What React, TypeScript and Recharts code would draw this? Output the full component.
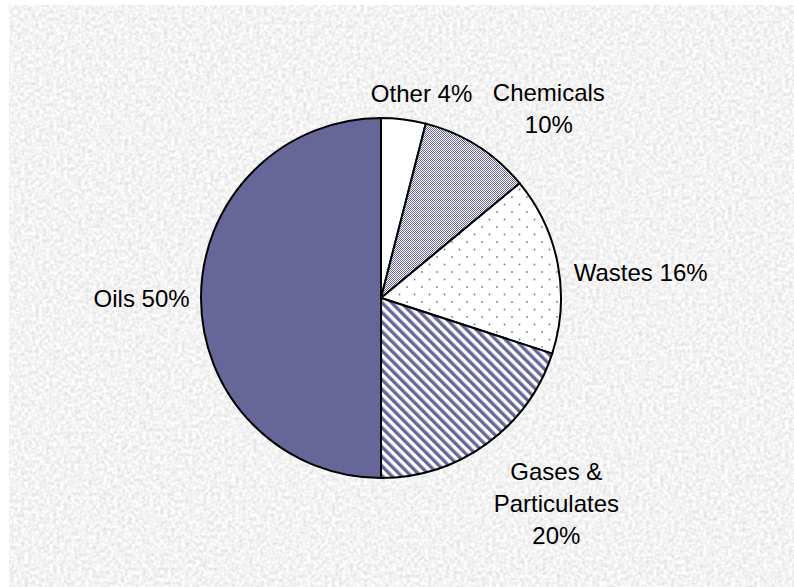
import { PieChart, Pie, Cell } from 'recharts'

// pollution sources, share of total (%)
const categories = ['Other', 'Chemicals', 'Wastes', 'Gases & Particulates', 'Oils']
const shares = [4, 10, 16, 20, 50]
const labelLines = [['Other 4%'], ['Chemicals', '10%'], ['Wastes 16%'], ['Gases &', 'Particulates', '20%'], ['Oils 50%']]

const data = categories.map((name, i) => ({ name, value: shares[i] }))

const FILLS = ['#ffffff', 'url(#checker)', 'url(#dots)', 'url(#stripes)', '#666699']

// where each label sits: angle shift (deg) and distance from centre, as a share of the radius
const LABEL_PLACE = [
  { da: -4, k: 1.16 },
  { da: -9, k: 1.41 },
  { da: -5, k: 1.45 },
  { da: 4.5, k: 1.5 },
  { da: 0, k: 1.33 },
]

const RAD = Math.PI / 180
const FONT = "'Liberation Sans', Arial, sans-serif"

function renderLabel(props: any) {
  const { cx, cy, midAngle, outerRadius, index } = props
  const p = LABEL_PLACE[index]
  const a = (midAngle + p.da) * RAD
  const x = cx + Math.cos(a) * outerRadius * p.k
  const y = cy - Math.sin(a) * outerRadius * p.k
  const lines = labelLines[index]
  const lh = 32
  const top = y - ((lines.length - 1) * lh) / 2
  return (
    <text key={index} x={x} y={top} textAnchor="middle" dominantBaseline="central" fontSize={24} fontFamily={FONT} fill="#000">
      {lines.map((l, j) => (
        <tspan key={j} x={x} y={top + j * lh}>{l}</tspan>
      ))}
    </text>
  )
}

export default function App() {
  return (
    <div style={{ position: 'absolute', left: 0, top: 0, width: 794, height: 587, background: '#fff', overflow: 'hidden' }}>
      {/* textured grey backdrop */}
      <svg width={794} height={587} style={{ position: 'absolute', left: 0, top: 0 }}>
        <defs>
          <filter id="grain" x="0" y="0" width="100%" height="100%">
            <feTurbulence type="fractalNoise" baseFrequency="0.28" numOctaves={3} seed={4} />
            <feColorMatrix
              type="matrix"
              values="0.45 0 0 0 0.67  0.45 0 0 0 0.67  0.45 0 0 0 0.67  0 0 0 0 1"
            />
          </filter>
        </defs>
        <rect x={9} y={5} width={785} height={582} filter="url(#grain)" />
      </svg>
      <div style={{ position: 'absolute', left: 0, top: 0 }}>
        <PieChart width={794} height={587} margin={{ top: 0, right: 0, bottom: 0, left: 0 }}>
          <defs>
            <pattern id="checker" width={2} height={2} patternUnits="userSpaceOnUse">
              <rect width={2} height={2} fill="#ffffff" />
              <rect width={1} height={1} fill="#666699" />
              <rect x={1} y={1} width={1} height={1} fill="#666699" />
            </pattern>
            <pattern id="dots" width={15} height={15} patternUnits="userSpaceOnUse">
              <rect width={15} height={15} fill="#ffffff" />
              <circle cx={2} cy={2} r={0.9} fill="#7777aa" />
              <circle cx={9.5} cy={9.5} r={0.9} fill="#7777aa" />
            </pattern>
            <pattern id="stripes" width={6.8} height={10} patternUnits="userSpaceOnUse" patternTransform="rotate(-45)">
              <rect width={6.8} height={10} fill="#ffffff" />
              <rect width={3.4} height={10} fill="#666699" />
            </pattern>
          </defs>
          <Pie
            data={data}
            dataKey="value"
            nameKey="name"
            cx={381}
            cy={298}
            outerRadius={180}
            startAngle={90}
            endAngle={-270}
            stroke="#000"
            strokeWidth={2}
            label={renderLabel}
            labelLine={false}
            isAnimationActive={false}
          >
            {data.map((d, i) => (
              <Cell key={d.name} fill={FILLS[i]} />
            ))}
          </Pie>
        </PieChart>
      </div>
    </div>
  )
}
